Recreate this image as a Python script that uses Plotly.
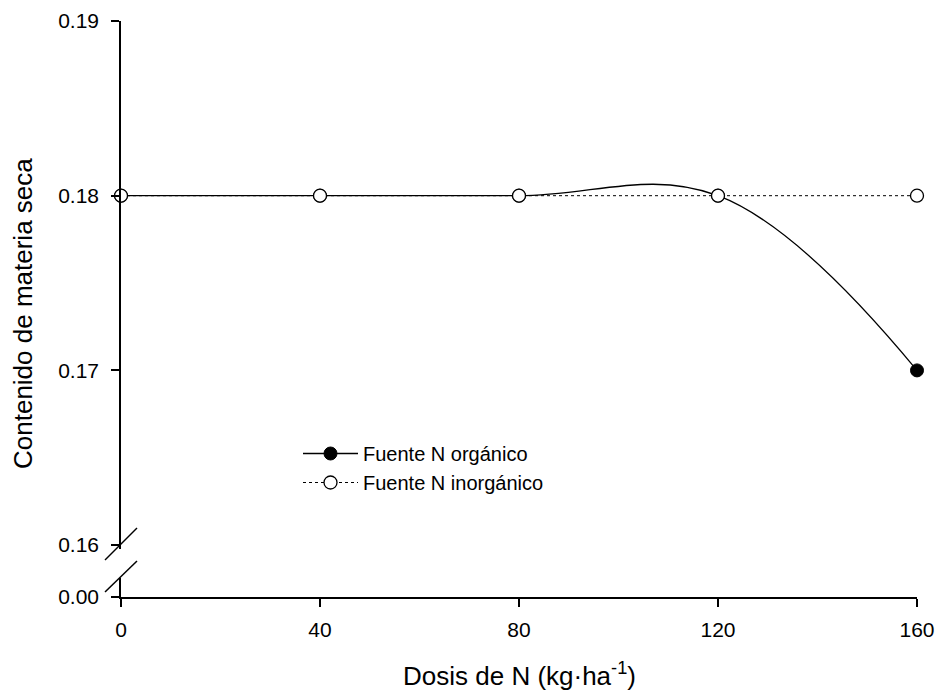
import plotly.graph_objects as go

dosis = [0, 40, 80, 120, 160]
organico = [0.18, 0.18, 0.18, 0.18, 0.17]
inorganico = [0.18, 0.18, 0.18, 0.18, 0.18]
x_ticks = [0, 40, 80, 120, 160]
y_ticks_upper = [0.16, 0.17, 0.18, 0.19]
y_ticks_lower = [0.0]

W, H = 938, 694
# plot area in screen pixels: x 121..917, y 21..597
L, T = 121, 21
R, B = W - 917, H - 597
pw, ph = W - L - R, H - T - B

def px(sx):
    return (sx - L) / pw

def py(sy):
    return (H - B - sy) / ph

FAM = "Liberation Sans, Arial, sans-serif"
fig = go.Figure()
# empty trace so the lower (broken) y segment is drawn
fig.add_trace(go.Scatter(x=[], y=[], yaxis="y", showlegend=False, hoverinfo="skip"))
fig.add_trace(go.Scatter(
    x=dosis, y=organico, yaxis="y2", name="Fuente N orgánico",
    mode="lines+markers", line=dict(color="black", width=1.3, shape="spline", smoothing=1.1),
    marker=dict(symbol="circle", size=13, color="black", line=dict(color="black", width=1)),
    cliponaxis=False))
fig.add_trace(go.Scatter(
    x=dosis, y=inorganico, yaxis="y2", name="Fuente N inorgánico",
    mode="lines+markers", line=dict(color="black", width=1, dash="dot"),
    marker=dict(symbol="circle", size=13, color="white", line=dict(color="black", width=1.3)),
    cliponaxis=False))

tickfont = dict(family=FAM, size=21, color="black")
axis_common = dict(showline=True, linecolor="black", linewidth=1.5, ticks="outside",
                   ticklen=8, tickwidth=1.5, tickcolor="black", showgrid=False,
                   zeroline=False, tickfont=tickfont, automargin=False)

fig.update_layout(
    width=W, height=H, margin=dict(l=L, r=R, t=T, b=B),
    paper_bgcolor="white", plot_bgcolor="white",
    font=dict(family=FAM, size=21, color="black"),
    xaxis=dict(range=[0, 160], tickvals=x_ticks, ticktext=[str(v) for v in x_ticks],
               anchor="y", ticklabelstandoff=5, **axis_common),
    yaxis=dict(range=[0, 0.001], domain=[0, py(578)], tickvals=y_ticks_lower,
               ticktext=["0.00"], anchor="x", ticklabelstandoff=8, **axis_common),
    yaxis2=dict(range=[0.1598, 0.19], domain=[py(548.6), 1], tickvals=y_ticks_upper,
                ticktext=[f"{v:.2f}" for v in y_ticks_upper], anchor="x",
                ticklabelstandoff=8, **axis_common),
    legend=dict(x=px(298), y=py(434), xanchor="left", yanchor="top",
                bgcolor="rgba(0,0,0,0)", font=dict(family=FAM, size=20, color="black"),
                tracegroupgap=0, itemwidth=55),
    showlegend=True,
)

# axis break marks
for (x0, y0, x1, y1) in [(105, 560, 137, 528), (105, 592, 137, 561)]:
    fig.add_shape(type="line", xref="paper", yref="paper",
                  x0=px(x0), y0=py(y0), x1=px(x1), y1=py(y1),
                  line=dict(color="black", width=1.5))

fig.add_annotation(text="Contenido de materia seca", xref="paper", yref="paper",
                   x=px(23), y=py(314), xanchor="center", yanchor="middle",
                   textangle=-90, showarrow=False,
                   font=dict(family=FAM, size=26, color="black"))
fig.add_annotation(text="Dosis de N (kg·ha<sup>-1</sup>)", xref="paper", yref="paper",
                   x=px(519), y=py(693), xanchor="center", yanchor="bottom",
                   showarrow=False,
                   font=dict(family=FAM, size=26, color="black"))

fig.write_html("out.html", config={"displayModeBar": False},
               post_script="document.body.style.margin='0';")
